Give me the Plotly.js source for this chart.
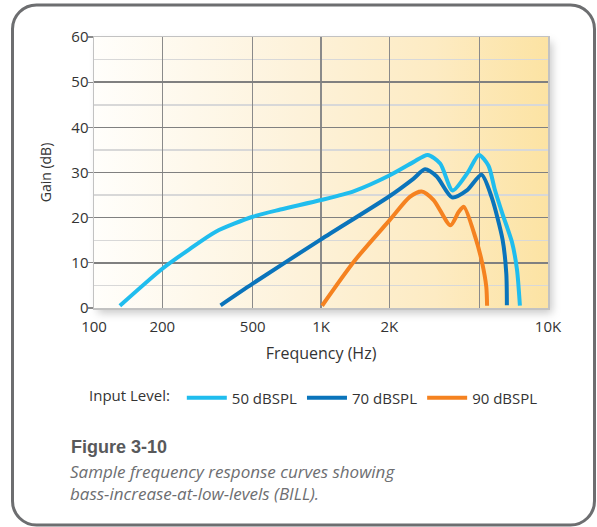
<!DOCTYPE html>
<html>
<head>
<meta charset="utf-8">
<script src="https://cdn.plot.ly/plotly-3.0.1.min.js"></script>
<style>html,body{margin:0;padding:0;background:#fff;}#chart{width:597px;height:527px;}</style>
</head>
<body>
<div id="chart"></div>
<script>
// ---- data ----
const series = ['50 dBSPL', '70 dBSPL', '90 dBSPL'];
const freq50 = [130, 200, 263, 344, 500, 662, 1000, 1400, 2010, 2551, 2951, 3350, 3800, 4406, 4966, 5468, 5824, 6305, 6937, 7300, 7520];
const gain50 = [0.5, 8.7, 13.0, 16.9, 20.2, 21.8, 23.9, 25.9, 29.4, 32.3, 33.9, 32.0, 26.0, 29.8, 33.9, 31.5, 26.3, 20.8, 14.6, 8.5, 0.5];
const freq70 = [361, 500, 1000, 2010, 2551, 2873, 3236, 3777, 4406, 5096, 5640, 6305, 6551, 6590];
const gain70 = [0.6, 5.4, 15.2, 24.8, 28.6, 30.7, 29.1, 24.5, 26.1, 29.5, 24.6, 15.2, 7.6, 0.6];
const freq90 = [1011, 1403, 2010, 2462, 2774, 3134, 3717, 4045, 4260, 4801, 5128, 5347, 5391];
const gain90 = [0.5, 10.4, 19.5, 24.6, 25.8, 23.9, 18.3, 21.3, 22.4, 15.4, 10.0, 4.7, 0.5];
const xTickVals = [100, 200, 500, 1000, 2000, 5000, 10000];
const xTickText = ['100', '200', '500', '1K', '2K', '', '10K'];
const yTickVals = [0, 10, 20, 30, 40, 50, 60];

// ---- styling ----
const W = 597, H = 527, ML = 94, MR = 49, MT = 37, MB = 219;
const PW = W - ML - MR, PH = H - MT - MB;
const colors = ['#20bdee', '#0a74bb', '#f58220'];
const FONT = '"Open Sans", Lato, sans-serif';
const px2x = p => (p - ML) / PW;
const py2y = p => (MT + PH - p) / PH;

const svg = `<svg xmlns="http://www.w3.org/2000/svg" width="${W}" height="${H}" viewBox="0 0 ${W} ${H}">
<defs>
<linearGradient id="g" x1="0" y1="0" x2="1" y2="0">
<stop offset="0" stop-color="#fffefb"/>
<stop offset="0.45" stop-color="#fdf2da"/>
<stop offset="0.75" stop-color="#fdebc3"/>
<stop offset="1" stop-color="#fce3a3"/>
</linearGradient>
<filter id="s" x="-10%" y="-10%" width="130%" height="130%"><feGaussianBlur stdDeviation="4"/></filter>
</defs>
<rect x="12.5" y="5" width="582" height="520" rx="24" ry="24" fill="#fff" stroke="#6d6e70" stroke-width="3"/>
<rect x="${ML + 4}" y="${MT + 5}" width="${PW}" height="${PH}" fill="#000" fill-opacity="0.22" filter="url(#s)"/>
<rect x="${ML}" y="${MT}" width="${PW}" height="${PH}" fill="url(#g)"/>
</svg>`;
const bgURI = 'data:image/svg+xml;charset=utf-8,' + encodeURIComponent(svg);

const xs = [freq50, freq70, freq90], ys = [gain50, gain70, gain90];
const traces = series.map((name, i) => ({
  x: xs[i], y: ys[i], name: name, type: 'scatter', mode: 'lines',
  line: {color: colors[i], width: 4, shape: 'spline', smoothing: 0.7},
  hoverinfo: 'skip'
}));

const layout = {
  width: W, height: H,
  margin: {l: ML, r: MR, t: MT, b: MB, pad: 0},
  paper_bgcolor: '#ffffff',
  plot_bgcolor: 'rgba(0,0,0,0)',
  font: {family: FONT, size: 14, color: '#333333'},
  showlegend: true,
  xaxis: {
    type: 'log', range: [2, 4], tickvals: xTickVals, ticktext: xTickText,
    showgrid: true, gridcolor: '#8a8a8a', gridwidth: 1.5,
    showline: true, mirror: true, linecolor: '#c2c2c2', linewidth: 1.5,
    ticks: '', ticklabelstandoff: 4, zeroline: false,
    tickfont: {family: FONT, size: 15, color: '#333'},
    title: {text: 'Frequency (Hz)', font: {family: FONT, size: 16, color: '#333'}, standoff: 13},
    fixedrange: true
  },
  yaxis: {
    range: [0, 60], tickvals: yTickVals,
    showgrid: true, gridcolor: '#808080', gridwidth: 1.5,
    minor: {dtick: 5, tick0: 0, showgrid: true, gridcolor: '#d8d8d8', gridwidth: 1.5, ticks: ''},
    showline: true, mirror: true, linecolor: '#c2c2c2', linewidth: 1.5,
    ticks: 'outside', ticklen: 5, tickcolor: '#8a8a8a', tickwidth: 1.2,
    ticklabelstandoff: -4,
    zeroline: false,
    tickfont: {family: FONT, size: 15, color: '#333'},
    title: {text: 'Gain (dB)', font: {family: FONT, size: 14, color: '#333'}, standoff: 16},
    fixedrange: true
  },
  legend: {
    orientation: 'h', x: px2x(87), xanchor: 'left', y: py2y(398), yanchor: 'middle',
    bgcolor: 'rgba(0,0,0,0)', borderwidth: 0,
    font: {family: FONT, size: 15, color: '#333'},
    title: {text: 'Input Level: ', side: 'left', font: {family: FONT, size: 15, color: '#333'}},
    itemwidth: 40, tracegroupgap: 0, itemclick: false, itemdoubleclick: false
  },
  images: [{
    source: bgURI, xref: 'paper', yref: 'paper',
    x: -ML / PW, y: 1 + MT / PH, sizex: W / PW, sizey: H / PH,
    xanchor: 'left', yanchor: 'top', sizing: 'stretch', layer: 'below'
  }],
  annotations: [
    {text: '<b>Figure 3-10</b>', xref: 'paper', yref: 'paper', x: px2x(69), y: py2y(447),
     xanchor: 'left', yanchor: 'middle', showarrow: false,
     font: {family: '"Liberation Sans", Arial, sans-serif', size: 18, color: '#58595b'}},
    {text: '<i>Sample frequency response curves showing<br>bass-increase-at-low-levels (BILL).</i>',
     xref: 'paper', yref: 'paper', x: px2x(68), y: py2y(482), align: 'left',
     xanchor: 'left', yanchor: 'middle', showarrow: false,
     font: {family: FONT, size: 17, color: '#6d6e71'}}
  ]
};

Plotly.newPlot('chart', traces, layout, {displayModeBar: false, staticPlot: true});
</script>
</body>
</html>
